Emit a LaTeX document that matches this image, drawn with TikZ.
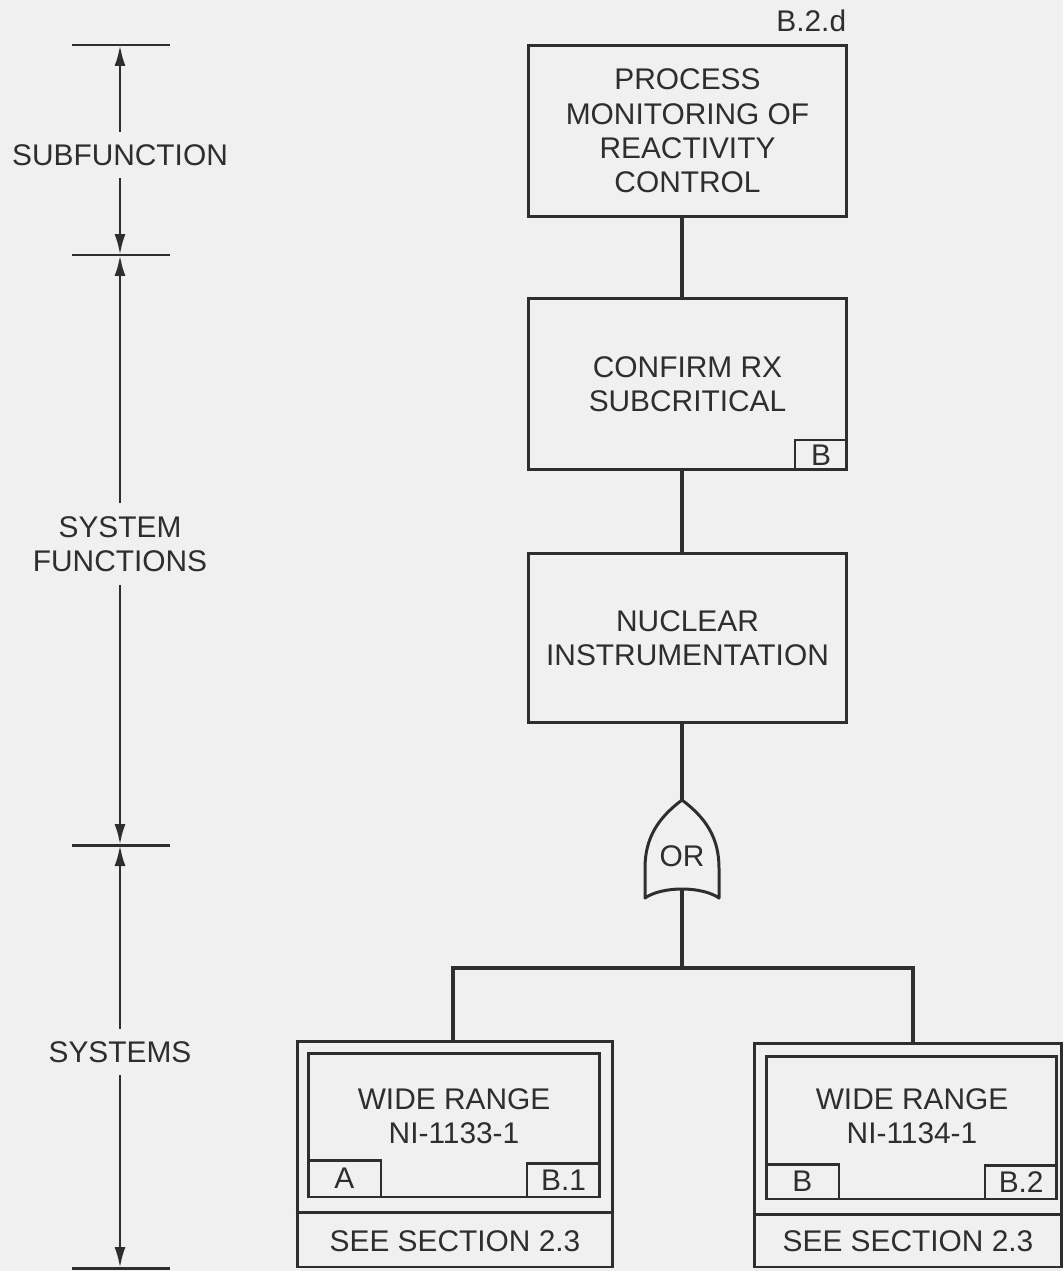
\documentclass[tikz,border=0pt]{standalone}
\usepackage{fontspec}
\setmainfont{Liberation Sans}
\usepackage{xcolor}
\usepackage{tikz}
\usetikzlibrary{arrows.meta, positioning, calc}
\definecolor{ink}{gray}{0.18}
\definecolor{paper}{gray}{0.94}

\begin{document}
\begin{tikzpicture}[
  x=0.02cm, y=-0.02cm,
  every node/.style={font=\fontsize{17}{19.5}\selectfont, text=ink},
  fbox/.style={rectangle, draw=ink, line width=1.7pt, minimum width=6.38cm, align=center, inner sep=0pt},
  sysbox/.style={rectangle, draw=ink, line width=1.7pt, inner sep=0pt},
  tag/.style={rectangle, draw=ink, line width=1.5pt, inner sep=0pt},
  frame/.style={draw=ink, line width=1.7pt},
  conn/.style={draw=ink, line width=2.6pt},
  dimarr/.style={draw=ink, line width=1.6pt, -{Latex[length=4.2mm, width=2.2mm]}},
  scaletick/.style={draw=ink, line width=1.7pt},
  scalelbl/.style={align=center, inner xsep=0pt, inner ysep=0.25cm}
]
  % Paper
  \fill[paper] (0,0) rectangle (1063,1271);
  \useasboundingbox (0,0) rectangle (1063,1271);

  % Scale on the left
  \foreach \y in {45,255,845,1268} {
    \draw[scaletick] (72,\y) -- (170,\y);
  }
  \coordinate (s0) at (120,45);
  \coordinate (s1) at (120,255);
  \coordinate (s2) at (120,845);
  \coordinate (s3) at (120,1268);
  \node[scalelbl] (lsub) at (120,155) {SUBFUNCTION};
  \node[scalelbl] (lsysfn) at (120,544) {SYSTEM\\FUNCTIONS};
  \node[scalelbl] (lsys) at (120,1052) {SYSTEMS};
  \draw[dimarr] (lsub) -- (s0);
  \draw[dimarr] (lsub) -- (s1);
  \draw[dimarr] (lsysfn) -- (s1);
  \draw[dimarr] (lsysfn) -- (s2);
  \draw[dimarr] (lsys) -- (s2);
  \draw[dimarr] (lsys) -- (s3);

  % Function boxes
  \node[fbox, minimum height=3.44cm] (pmrc) at (687.5,131) {PROCESS\\MONITORING OF\\REACTIVITY\\CONTROL};
  \node[anchor=base east, inner sep=0pt] (refid) at ($(pmrc.north east)+(-2,-12)$) {B.2.d};
  \node[fbox, minimum height=3.44cm] (crs) at (687.5,384) {CONFIRM RX\\SUBCRITICAL};
  \node[tag, minimum width=1.04cm, minimum height=0.6cm, anchor=south east] (crsB) at (crs.south east) {B};
  \node[fbox, minimum height=3.40cm] (ni) at (687.5,638) {NUCLEAR\\INSTRUMENTATION};

  % OR gate
  \coordinate (spine) at (682,0);
  \coordinate (gtop) at (682,800);
  \coordinate (gbot) at (682,889);
  \draw[frame, line join=round] (gtop) .. controls (658,818) and (645,838) .. (645,868)
    -- (645,898) .. controls (662,886) and (702,886) .. (719,898)
    -- (719,868) .. controls (719,838) and (706,818) .. (gtop) -- cycle;
  \node (orlbl) at (682,856) {OR};

  % Spine
  \draw[conn] (pmrc.south -| spine) -- (crs.north -| spine);
  \draw[conn] (crs.south -| spine) -- (ni.north -| spine);
  \draw[conn] (ni.south -| spine) -- (gtop);

  % System boxes
  \node[sysbox, minimum width=6.32cm, minimum height=4.52cm] (sysA) at (455,1154) {};
  \node[sysbox, minimum width=5.84cm, minimum height=2.88cm] (inA) at (454,1125) {};
  \node[align=center] (wrA) at (454,1116) {WIDE RANGE\\NI-1133-1};
  \node[tag, minimum width=1.46cm, minimum height=0.74cm, anchor=south west] (tagA) at (inA.south west) {A};
  \node[tag, minimum width=1.46cm, minimum height=0.68cm, anchor=south east] (tagB1) at (inA.south east) {B.1};
  \draw[frame] ($(sysA.south west)+(0,-56)$) -- ($(sysA.south east)+(0,-56)$);
  \node (seeA) at ($(sysA.south)+(0,-27)$) {SEE SECTION 2.3};

  \node[sysbox, minimum width=6.16cm, minimum height=4.48cm] (sysB) at (908,1155) {};
  \node[sysbox, minimum width=5.82cm, minimum height=2.86cm] (inB) at (911.5,1127.5) {};
  \node[align=center] (wrB) at (912,1116) {WIDE RANGE\\NI-1134-1};
  \node[tag, minimum width=1.46cm, minimum height=0.70cm, anchor=south west] (tagB) at (inB.south west) {B};
  \node[tag, minimum width=1.44cm, minimum height=0.68cm, anchor=south east] (tagB2) at (inB.south east) {B.2};
  \draw[frame] ($(sysB.south west)+(0,-54)$) -- ($(sysB.south east)+(0,-54)$);
  \node (seeB) at ($(sysB.south)+(0,-27)$) {SEE SECTION 2.3};

  % Bus
  \coordinate (bus) at (682,968);
  \coordinate (busA) at (453,968);
  \coordinate (busB) at (913,968);
  \draw[conn] (gbot) -- (bus);
  \draw[conn] (sysA.north -| busA) -- (busA) -- (busB) -- (sysB.north -| busB);
\end{tikzpicture}
\end{document}
